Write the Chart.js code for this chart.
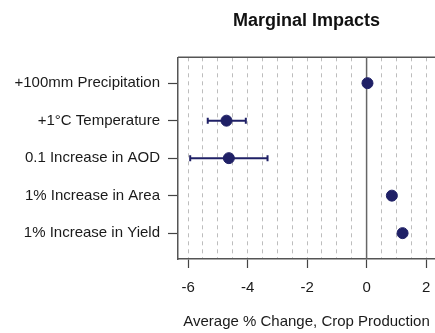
<!DOCTYPE html>
<html>
<head>
<meta charset="utf-8">
<script src="https://cdn.jsdelivr.net/npm/chart.js@4.4.1/dist/chart.umd.min.js"></script>
<style>
  html, body { margin: 0; padding: 0; background: #fff; overflow: hidden; }
  canvas { display: block; }
</style>
</head>
<body>
<canvas id="myChart" width="435" height="333"></canvas>
<script>
// rows, top to bottom
const categories = ['+100mm Precipitation', '+1°C Temperature', '0.1 Increase in AOD', '1% Increase in Area', '1% Increase in Yield'];
const means = [0.03, -4.71, -4.63, 0.85, 1.21];
const lower = [-0.06, -5.34, -5.93, 0.85, 1.21];
const upper = [0.12, -4.06, -3.33, 0.85, 1.21];
const xTickLabels = [-6, -4, -2, 0, 2];

const FONT = "'Liberation Sans', Arial, Helvetica, sans-serif";
const NAVY = '#1f2066';

// error bars, zero line and top edge of the box
const extras = {
  id: 'extras',
  beforeDatasetsDraw(chart) {
    const {ctx, chartArea} = chart;
    const xs = chart.scales.x, ys = chart.scales.y;
    ctx.save();
    // top border
    ctx.strokeStyle = '#555';
    ctx.lineWidth = 1.5;
    ctx.beginPath();
    ctx.moveTo(chartArea.left, chartArea.top);
    ctx.lineTo(chartArea.right, chartArea.top);
    ctx.stroke();
    // zero line
    const x0 = xs.getPixelForValue(0);
    ctx.strokeStyle = '#666';
    ctx.beginPath();
    ctx.moveTo(x0, chartArea.top);
    ctx.lineTo(x0, chartArea.bottom);
    ctx.stroke();
    // error bars
    ctx.strokeStyle = NAVY;
    ctx.lineWidth = 2;
    for (let i = 0; i < means.length; i++) {
      if (lower[i] === upper[i]) continue;
      const y = ys.getPixelForValue(i + 1);
      const a = xs.getPixelForValue(lower[i]);
      const b = xs.getPixelForValue(upper[i]);
      ctx.beginPath();
      ctx.moveTo(a, y); ctx.lineTo(b, y);
      ctx.moveTo(a, y - 3); ctx.lineTo(a, y + 3);
      ctx.moveTo(b, y - 3); ctx.lineTo(b, y + 3);
      ctx.stroke();
    }
    ctx.restore();
  }
};

new Chart(document.getElementById('myChart'), {
  type: 'scatter',
  data: {
    datasets: [{
      data: means.map((m, i) => ({x: m, y: i + 1})),
      backgroundColor: NAVY,
      borderColor: NAVY,
      pointRadius: 5.5,
      pointHoverRadius: 5.5
    }]
  },
  options: {
    responsive: false,
    animation: false,
    layout: { padding: 0, autoPadding: false },
    plugins: {
      legend: { display: false },
      tooltip: { enabled: false },
      title: {
        display: true,
        text: 'Marginal Impacts',
        fullSize: false,
        color: '#111',
        font: { family: FONT, size: 18, weight: 'bold' },
        padding: { top: 10, bottom: 25.7 }
      }
    },
    scales: {
      x: {
        type: 'linear',
        min: -6.34,
        max: 2.3,
        ticks: {
          stepSize: 0.5,
          includeBounds: false,
          autoSkip: false,
          maxRotation: 0,
          padding: 11,
          color: '#1a1a1a',
          font: { family: FONT, size: 15 },
          callback: v => xTickLabels.includes(v) ? String(v) : ''
        },
        grid: {
          color: c => (c.tick && c.tick.value === 0) ? 'rgba(0,0,0,0)' : '#bdbdbd',
          lineWidth: 1,
          tickLength: 9,
          tickWidth: 1.2,
          tickColor: c => (c.tick && xTickLabels.includes(c.tick.value)) ? '#444' : 'rgba(0,0,0,0)'
        },
        border: { color: '#555', width: 1.5, dash: [4, 4] },
        title: {
          display: true,
          text: 'Average % Change, Crop Production',
          color: '#1a1a1a',
          font: { family: FONT, size: 15 },
          padding: { top: 0, bottom: 2 }
        },
        afterFit: s => { s.height = 74; s.paddingLeft = 0; s.paddingRight = 0; }
      },
      y: {
        type: 'linear',
        reverse: true,
        min: 0.31,
        max: 5.69,
        ticks: {
          stepSize: 1,
          includeBounds: false,
          autoSkip: false,
          padding: 8,
          color: '#1a1a1a',
          font: { family: FONT, size: 15 },
          callback: v => categories[v - 1] || ''
        },
        grid: { drawOnChartArea: false, tickLength: 10, tickColor: '#444', tickWidth: 1.2 },
        border: { color: '#555', width: 1.5 },
        afterFit: s => { s.width = 178; s.paddingTop = 0; s.paddingBottom = 0; }
      }
    }
  },
  plugins: [extras]
});
</script>
</body>
</html>
